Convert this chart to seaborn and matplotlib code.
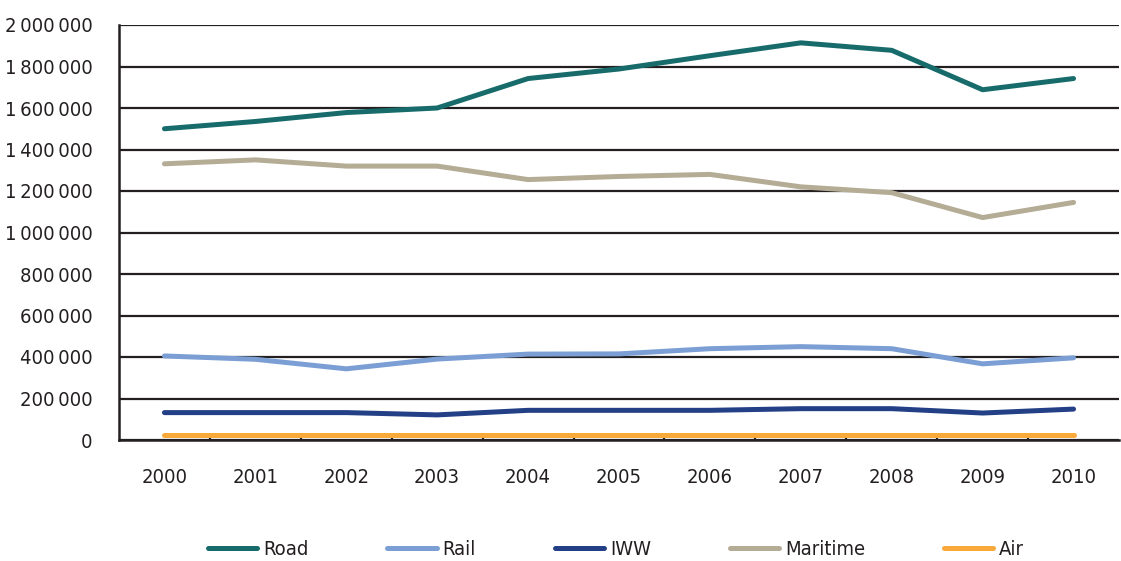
import matplotlib
matplotlib.use("Agg")
import matplotlib.pyplot as plt
from matplotlib.ticker import FuncFormatter, FixedLocator
import seaborn as sns
import pandas as pd

years = ["2000", "2001", "2002", "2003", "2004", "2005",
         "2006", "2007", "2008", "2009", "2010"]
road = [1500000, 1535000, 1578000, 1600000, 1742000, 1788000,
        1852000, 1914000, 1878000, 1688000, 1742000]
rail = [405000, 389000, 343000, 390000, 414000, 415000,
        440000, 450000, 440000, 367000, 396000]
iww = [132000, 132000, 132000, 121000, 143000, 143000,
       143000, 151000, 151000, 130000, 149000]
maritime = [1331000, 1350000, 1320000, 1320000, 1255000, 1270000,
            1280000, 1220000, 1192000, 1072000, 1145000]
air = [22000, 22000, 22000, 22000, 22000, 22000,
       22000, 22000, 22000, 22000, 22000]

modes = ["Road", "Rail", "IWW", "Maritime", "Air"]
colors = ["#176b6b", "#7b9fd4", "#233f86", "#b5ac96", "#f9a83a"]
series = [road, rail, iww, maritime, air]

df = pd.DataFrame({
    "year": years * len(modes),
    "mode": [m for m in modes for _ in years],
    "value": [v for s in series for v in s],
})

sns.set_theme(style="white")
plt.rcParams["font.family"] = ["DejaVu Sans"]
plt.rcParams["font.stretch"] = "condensed"
ink = "#231f20"
fs = 14.5

fig = plt.figure(figsize=(11.21, 5.61), dpi=100)
ax = fig.add_axes([119 / 1121, 1 - 440 / 561, 1000 / 1121, 415 / 561])

sns.lineplot(data=df, x="year", y="value", hue="mode", hue_order=modes,
             palette=colors, linewidth=3.6, sort=False, ax=ax,
             solid_capstyle="round", zorder=3)

ax.set_xlim(-0.5, len(years) - 0.5)
ax.set_ylim(0, 2000000)
ax.set_yticks(range(0, 2000001, 200000))
# thousands separated by a thin space
ax.yaxis.set_major_formatter(FuncFormatter(lambda v, p: f"{int(v):,}".replace(",", "\u2009")))
ax.yaxis.grid(True, color=ink, linewidth=1.6)
ax.set_axisbelow(True)

ax.xaxis.set_minor_locator(FixedLocator([i + 0.5 for i in range(len(years) - 1)]))
ax.tick_params(axis="x", which="major", length=0, pad=20, labelsize=fs, labelcolor=ink)
ax.tick_params(axis="x", which="minor", direction="in", length=4, width=1.6, color=ink, bottom=True)
ax.tick_params(axis="y", length=0, pad=19, labelsize=fs, labelcolor=ink)

for side in ("top", "right"):
    ax.spines[side].set_visible(False)
for side in ("left", "bottom"):
    ax.spines[side].set_color(ink)
    ax.spines[side].set_linewidth(1.8)

ax.set_xlabel("")
ax.set_ylabel("")

handles, labels = ax.get_legend_handles_labels()
leg = ax.legend(handles, labels, loc="center", bbox_to_anchor=(0.497, -0.263),
                ncol=5, frameon=False, fontsize=fs, handlelength=2.45,
                handletextpad=0.3, columnspacing=3.9)
for line in leg.get_lines():
    line.set_linewidth(3.6)
    line.set_solid_capstyle("round")
for t in leg.get_texts():
    t.set_color(ink)

fig.savefig("out.png", dpi=100)
